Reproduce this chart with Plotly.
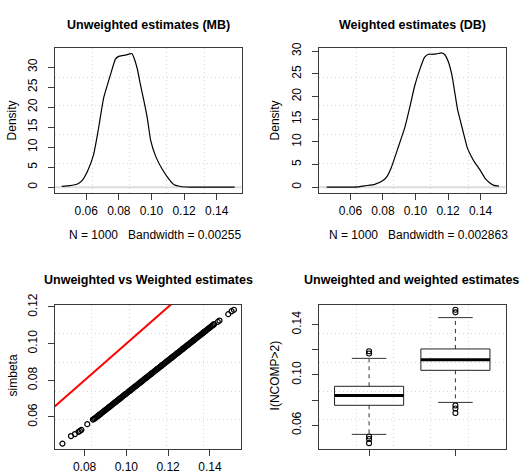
import plotly.graph_objects as go

W, H = 521, 474

# ---------------- data ----------------
# density of unweighted estimates (MB)
mb_x = [0.0450, 0.0500, 0.0543, 0.0573, 0.0608, 0.0645, 0.0672, 0.0707, 0.0748, 0.0779,
        0.0799, 0.0820, 0.0841, 0.0867, 0.0880, 0.0892, 0.0913, 0.0933, 0.0954, 0.0974,
        0.0995, 0.1026, 0.1067, 0.1108, 0.1139, 0.1180, 0.1232, 0.1300, 0.1400, 0.1510]
mb_d = [0.2, 0.4, 0.73, 1.56, 4.0, 8.05, 13.8, 22.3, 28.0, 32.0,
        32.7, 32.9, 33.0, 33.3, 33.4, 32.4, 29.6, 25.5, 21.5, 17.4,
        11.7, 7.7, 4.4, 1.95, 0.6, 0.17, 0.02, 0.0, 0.0, 0.0]

# density of weighted estimates (DB)
db_x = [0.0454, 0.0600, 0.0648, 0.0688, 0.0749, 0.0800, 0.0822, 0.0851, 0.0892, 0.0933,
        0.0964, 0.0994, 0.1025, 0.1055, 0.1080, 0.1100, 0.1130, 0.1160, 0.1180, 0.1200,
        0.1225, 0.1258, 0.1288, 0.1319, 0.1340, 0.1359, 0.1400, 0.1430, 0.1451, 0.1482,
        0.1513]
db_d = [0.0, 0.0, 0.05, 0.3, 0.6, 1.45, 2.2, 4.3, 8.6, 13.0,
        17.5, 22.2, 25.8, 28.6, 29.3, 29.3, 29.4, 29.6, 29.2, 27.8,
        24.5, 17.2, 12.9, 8.6, 7.0, 5.75, 3.6, 1.8, 1.1, 0.39,
        0.24]

# scatter: weighted estimates (x) vs simbeta (y)
sc_x = [0.0694, 0.0735, 0.0754, 0.0771, 0.0778, 0.0785, 0.0813, 0.0840, 0.0845,
        0.0850, 0.0855, 0.0860, 0.0865, 0.0870, 0.0875, 0.0880, 0.0885, 0.0890, 0.0895,
        0.0900, 0.0905, 0.0910, 0.0915, 0.0920, 0.0925, 0.0930, 0.0935, 0.0940, 0.0945,
        0.0950, 0.0955, 0.0960, 0.0965, 0.0970, 0.0975, 0.0980, 0.0985, 0.0990, 0.0995,
        0.1000, 0.1005, 0.1010, 0.1015, 0.1020, 0.1025, 0.1030, 0.1035, 0.1040, 0.1045,
        0.1050, 0.1055, 0.1060, 0.1065, 0.1070, 0.1075, 0.1080, 0.1085, 0.1090, 0.1095,
        0.1100, 0.1105, 0.1110, 0.1115, 0.1120, 0.1125, 0.1130, 0.1135, 0.1140, 0.1145,
        0.1150, 0.1155, 0.1160, 0.1165, 0.1170, 0.1175, 0.1180, 0.1185, 0.1190, 0.1195,
        0.1200, 0.1205, 0.1210, 0.1215, 0.1220, 0.1225, 0.1230, 0.1235, 0.1240, 0.1245,
        0.1250, 0.1255, 0.1260, 0.1265, 0.1270, 0.1275, 0.1280, 0.1285, 0.1290, 0.1295,
        0.1300, 0.1305, 0.1310, 0.1315, 0.1320, 0.1325, 0.1330, 0.1335, 0.1340, 0.1345,
        0.1350, 0.1355, 0.1360, 0.1365, 0.1370, 0.1375, 0.1380, 0.1385, 0.1390, 0.1395,
        0.1400, 0.1405, 0.1410, 0.1415, 0.1420,
        0.1438, 0.1446, 0.1488, 0.1504, 0.1515]
sc_y = [0.0455, 0.0496, 0.0507, 0.0519, 0.0524, 0.0530, 0.0561, 0.0586, 0.0590,
        0.0593, 0.0598, 0.0602, 0.0607, 0.0611, 0.0616, 0.0620, 0.0625, 0.0629, 0.0634,
        0.0638, 0.0643, 0.0647, 0.0652, 0.0656, 0.0661, 0.0665, 0.0670, 0.0674, 0.0679,
        0.0683, 0.0688, 0.0692, 0.0697, 0.0701, 0.0706, 0.0710, 0.0715, 0.0719, 0.0724,
        0.0728, 0.0733, 0.0737, 0.0742, 0.0746, 0.0751, 0.0755, 0.0760, 0.0764, 0.0769,
        0.0773, 0.0778, 0.0782, 0.0787, 0.0791, 0.0796, 0.0800, 0.0805, 0.0809, 0.0814,
        0.0818, 0.0823, 0.0827, 0.0832, 0.0836, 0.0841, 0.0845, 0.0850, 0.0854, 0.0859,
        0.0863, 0.0868, 0.0872, 0.0877, 0.0881, 0.0886, 0.0890, 0.0895, 0.0899, 0.0904,
        0.0908, 0.0913, 0.0917, 0.0922, 0.0926, 0.0931, 0.0935, 0.0940, 0.0944, 0.0949,
        0.0953, 0.0958, 0.0962, 0.0967, 0.0971, 0.0976, 0.0980, 0.0985, 0.0989, 0.0994,
        0.0998, 0.1003, 0.1007, 0.1012, 0.1016, 0.1021, 0.1025, 0.1030, 0.1034, 0.1039,
        0.1043, 0.1048, 0.1052, 0.1057, 0.1061, 0.1066, 0.1070, 0.1075, 0.1079, 0.1084,
        0.1088, 0.1093, 0.1097, 0.1102, 0.1106,
        0.1119, 0.1126, 0.1161, 0.1177, 0.1185]
abline_intercept, abline_slope = 0.0, 1.0

# boxplot statistics
box_pos = [1, 2]
box_lowfence = [0.0527, 0.0781]
box_q1 = [0.0758, 0.1036]
box_median = [0.0835, 0.1121]
box_q3 = [0.0909, 0.1206]
box_upfence = [0.1131, 0.1455]
box_outliers = [[0.1170, 0.1188, 0.0510, 0.0490, 0.0457],
                [0.1497, 0.1518, 0.0756, 0.0733, 0.0697]]

# ---------------- layout helpers ----------------
FONT = "Liberation Sans, Arial, Helvetica, sans-serif"
LINEC = "#3a3a3a"
GRIDC = "#d6d6d6"


def px_x(p):
    return p / W


def px_y(p):
    return 1 - p / H


frames = {
    1: (54.7, 241.7, 37.3, 186.0),
    2: (319.0, 505.5, 37.3, 186.0),
    3: (54.7, 241.0, 301.7, 450.0),
    4: (319.0, 505.5, 301.7, 450.0),
}

ranges = {
    1: ([0.0407, 0.1553], [-1.336, 34.74]),
    2: ([0.0407, 0.1553], [-1.18, 30.64]),
    3: ([0.0657, 0.1549], [0.0427, 0.1212]),
    4: ([0.42, 2.58], [0.0413, 0.1557]),
}

xticks = {
    1: ([0.06, 0.08, 0.10, 0.12, 0.14], ["0.06", "0.08", "0.10", "0.12", "0.14"]),
    2: ([0.06, 0.08, 0.10, 0.12, 0.14], ["0.06", "0.08", "0.10", "0.12", "0.14"]),
    3: ([0.08, 0.10, 0.12, 0.14], ["0.08", "0.10", "0.12", "0.14"]),
    4: ([1, 2], ["", ""]),
}
yticks = {
    1: ([0, 5, 10, 15, 20, 25, 30], ["0", "5", "10", "15", "20", "25", "30"]),
    2: ([0, 5, 10, 15, 20, 25, 30], ["0", "5", "10", "15", "20", "25", "30"]),
    3: ([0.06, 0.08, 0.10, 0.12], ["0.06", "0.08", "0.10", "0.12"]),
    4: ([0.06, 0.08, 0.10, 0.12, 0.14], ["0.06", "", "0.10", "", "0.14"]),
}


def grid_vals(r):
    step = (r[1] - r[0]) / 5
    return [r[0] + k * step for k in range(1, 5)]


fig = go.Figure()
layout = dict(width=W, height=H, margin=dict(l=0, r=0, t=0, b=0),
              paper_bgcolor="white", plot_bgcolor="white", showlegend=False,
              font=dict(family=FONT, size=12, color="black"))

for i in range(1, 5):
    x0, x1, y0, y1 = frames[i]
    xr, yr = ranges[i]
    sfx = "" if i == 1 else str(i)
    layout["xaxis" + sfx] = dict(
        domain=[px_x(x0), px_x(x1)], range=xr, anchor="y" + sfx,
        showline=True, mirror=True, linecolor=LINEC, linewidth=1,
        ticks="outside", ticklen=6, tickcolor=LINEC, tickwidth=1,
        tickmode="array", tickvals=xticks[i][0], ticktext=xticks[i][1],
        showgrid=False, zeroline=False, ticklabelstandoff=1,
        tickfont=dict(size=12, color="black"),
        minor=dict(tickmode="array", tickvals=grid_vals(xr), showgrid=True,
                   gridcolor=GRIDC, griddash="1px,3px", gridwidth=1, ticks=""),
    )
    layout["yaxis" + sfx] = dict(
        domain=[px_y(y1), px_y(y0)], range=yr, anchor="x" + sfx,
        showline=True, mirror=True, linecolor=LINEC, linewidth=1,
        ticks="outside", ticklen=6, tickcolor=LINEC, tickwidth=1,
        tickmode="array", tickvals=yticks[i][0], ticktext=yticks[i][1],
        tickangle=-90, showgrid=False, zeroline=False, ticklabelstandoff=6,
        tickfont=dict(size=12, color="black"),
        minor=dict(tickmode="array", tickvals=grid_vals(yr), showgrid=True,
                   gridcolor=GRIDC, griddash="1px,3px", gridwidth=1, ticks=""),
    )

# zero lines for density plots
shapes = []
for i in (1, 2):
    sfx = "" if i == 1 else str(i)
    shapes.append(dict(type="line", xref="x" + sfx + " domain", yref="y" + sfx,
                       x0=0, x1=1, y0=0, y1=0, layer="below",
                       line=dict(color="#dcdcdc", width=2)))
layout["shapes"] = shapes

# density curves
fig.add_trace(go.Scatter(x=mb_x, y=mb_d, mode="lines", xaxis="x", yaxis="y",
                         line=dict(color="black", width=1.2, shape="spline", smoothing=0.4)))
fig.add_trace(go.Scatter(x=db_x, y=db_d, mode="lines", xaxis="x2", yaxis="y2",
                         line=dict(color="black", width=1.2, shape="spline", smoothing=0.4)))

# scatter + abline
fig.add_trace(go.Scatter(x=sc_x, y=sc_y, mode="markers", xaxis="x3", yaxis="y3",
                         marker=dict(symbol="circle-open", size=5, color="black",
                                     line=dict(width=1.2, color="black"))))
ax_r = ranges[3][0]
fig.add_trace(go.Scatter(x=ax_r, y=[abline_intercept + abline_slope * v for v in ax_r],
                         mode="lines", xaxis="x3", yaxis="y3",
                         line=dict(color="red", width=2)))

# boxplots
BW, SW = 0.4, 0.2
for k, p in enumerate(box_pos):
    q1, q3, md = box_q1[k], box_q3[k], box_median[k]
    lo, hi = box_lowfence[k], box_upfence[k]
    fig.add_trace(go.Scatter(x=[p, p, None, p, p], y=[q3, hi, None, q1, lo], mode="lines",
                             xaxis="x4", yaxis="y4",
                             line=dict(color="#333", width=1, dash="4px,4px")))
    fig.add_trace(go.Scatter(x=[p - SW, p + SW, None, p - SW, p + SW],
                             y=[hi, hi, None, lo, lo], mode="lines",
                             xaxis="x4", yaxis="y4", line=dict(color="#333", width=1)))
    fig.add_trace(go.Scatter(x=[p - BW, p + BW, p + BW, p - BW, p - BW],
                             y=[q1, q1, q3, q3, q1], mode="lines",
                             xaxis="x4", yaxis="y4", line=dict(color="#222", width=1)))
    fig.add_trace(go.Scatter(x=[p - BW, p + BW], y=[md, md], mode="lines",
                             xaxis="x4", yaxis="y4", line=dict(color="black", width=3)))
    fig.add_trace(go.Scatter(x=[p] * len(box_outliers[k]), y=box_outliers[k], mode="markers",
                             xaxis="x4", yaxis="y4",
                             marker=dict(symbol="circle-open", size=5, color="black",
                                         line=dict(width=1.1, color="black"))))

# text annotations
ann = []
titles = [("Unweighted estimates (MB)", 148.2, 13.5),
          ("Weighted estimates (DB)", 412.3, 13.5),
          ("Unweighted vs Weighted estimates", 148.0, 276.5),
          ("Unweighted and weighted estimates", 411.0, 276.5)]
for t, xp, yp in titles:
    ann.append(dict(text="<b>" + t + "</b>", x=px_x(xp), y=px_y(yp), xref="paper", yref="paper",
                    xanchor="center", yanchor="middle", showarrow=False,
                    font=dict(size=12.5, family=FONT, color="black")))
subs = [("N = 1000   Bandwidth = 0.00255", 155.0, 229.3),
        ("N = 1000   Bandwidth = 0.002863", 418.2, 229.3)]
for t, xp, yp in subs:
    ann.append(dict(text=t.replace("   ", "&nbsp;&nbsp;&nbsp;"), x=px_x(xp), y=px_y(yp),
                    xref="paper", yref="paper", xanchor="center", yanchor="middle",
                    showarrow=False, font=dict(size=12, family=FONT, color="black")))
ylabs = [("Density", 12.0, 111.7), ("Density", 275.0, 111.7),
         ("simbeta", 12.5, 375.0), ("I(NCOMP>2)", 275.0, 374.5)]
for t, xp, yp in ylabs:
    ann.append(dict(text=t.replace(">", "&gt;"), x=px_x(xp), y=px_y(yp), xref="paper", yref="paper",
                    xanchor="center", yanchor="middle", showarrow=False, textangle=-90,
                    font=dict(size=12, family=FONT, color="black")))
layout["annotations"] = ann

fig.update_layout(**layout)
fig.write_html("out.html")
